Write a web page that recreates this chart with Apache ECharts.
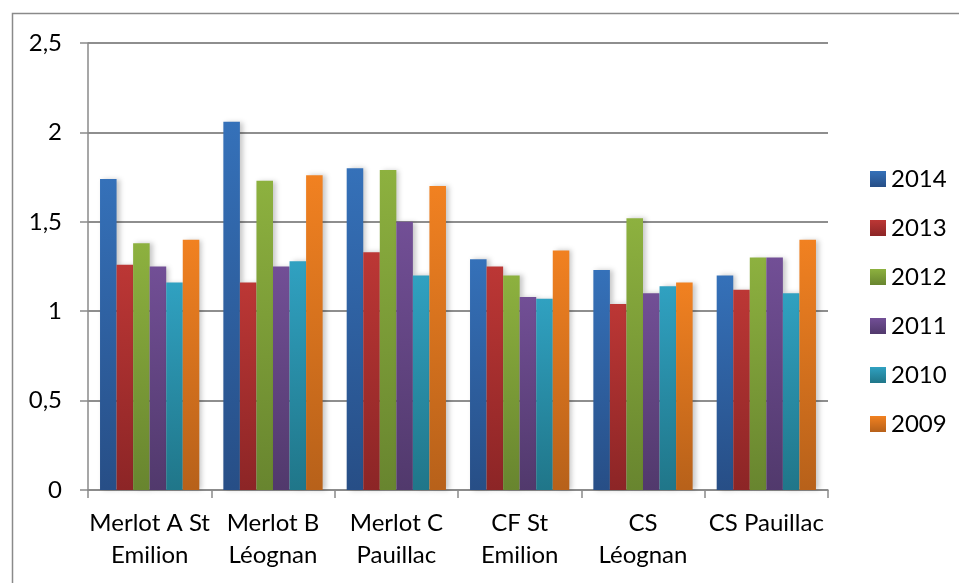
<!DOCTYPE html>
<html>
<head>
<meta charset="utf-8">
<script src="https://cdn.jsdelivr.net/npm/echarts@6/dist/echarts.min.js"></script>
<style>
html,body{margin:0;padding:0;background:#fff;}
#c{width:959px;height:583px;}
</style>
</head>
<body>
<div id="c"></div>
<script>
var categories = ['Merlot A St\nEmilion', 'Merlot B\nLéognan', 'Merlot C\nPauillac', 'CF St\nEmilion', 'CS\nLéognan', 'CS Pauillac'];
var seriesNames = ['2014', '2013', '2012', '2011', '2010', '2009'];
var v2014 = [1.74, 2.06, 1.80, 1.29, 1.23, 1.20];
var v2013 = [1.26, 1.16, 1.33, 1.25, 1.04, 1.12];
var v2012 = [1.38, 1.73, 1.79, 1.20, 1.52, 1.30];
var v2011 = [1.25, 1.25, 1.50, 1.08, 1.10, 1.30];
var v2010 = [1.16, 1.28, 1.20, 1.07, 1.14, 1.10];
var v2009 = [1.40, 1.76, 1.70, 1.34, 1.16, 1.40];
var yTickLabels = ['0', '0,5', '1', '1,5', '2', '2,5'];

var seriesValues = [v2014, v2013, v2012, v2011, v2010, v2009];
var topColors = ['#3571B9', '#BC3735', '#8DB13F', '#724F96', '#30A1C1', '#F18121'];
var bottomColors = ['#274E86', '#8C2526', '#68852F', '#51396C', '#207689', '#B7611A'];

var FONT = 'Lato, "Liberation Sans", sans-serif';
var chart = echarts.init(document.getElementById('c'), null, {renderer: 'canvas'});

var series = seriesNames.map(function (name, i) {
  return {
    name: name,
    type: 'bar',
    data: seriesValues[i],
    barGap: '0%',
    barCategoryGap: '19.5%',
    itemStyle: {
      color: new echarts.graphic.LinearGradient(0, 0, 0, 1, [
        {offset: 0, color: topColors[i]},
        {offset: 1, color: bottomColors[i]}
      ]),
      shadowColor: 'rgba(0,0,0,0.22)',
      shadowBlur: 5,
      shadowOffsetX: 3,
      shadowOffsetY: 0
    },
    emphasis: {disabled: true}
  };
});

chart.setOption({
  animation: false,
  backgroundColor: '#ffffff',
  textStyle: {fontFamily: FONT},
  graphic: [{
    type: 'rect',
    shape: {x: 12.5, y: 13.5, width: 960, height: 620},
    style: {fill: 'none', stroke: '#8a8a8a', lineWidth: 1.5},
    silent: true,
    z: -1
  }],
  grid: {left: 88, right: 131, top: 43, bottom: 93, containLabel: false},
  legend: {
    orient: 'vertical',
    left: 870,
    top: 167,
    padding: 0,
    itemWidth: 16,
    itemHeight: 16,
    itemGap: 25,
    icon: 'rect',
    textStyle: {fontFamily: FONT, fontSize: 24, lineHeight: 22, color: '#000'},
    data: seriesNames
  },
  xAxis: {
    type: 'category',
    data: categories,
    axisLine: {lineStyle: {color: '#8a8a8a', width: 1.5}},
    axisTick: {show: true, length: 8, lineStyle: {color: '#8a8a8a', width: 1.5}},
    axisLabel: {
      interval: 0,
      margin: 17,
      fontFamily: FONT,
      fontSize: 24,
      lineHeight: 32,
      color: '#000'
    }
  },
  yAxis: {
    type: 'value',
    min: 0,
    max: 2.5,
    interval: 0.5,
    axisLine: {show: true, lineStyle: {color: '#8a8a8a', width: 1.5}},
    axisTick: {show: true, length: 8, lineStyle: {color: '#8a8a8a', width: 1.5}},
    splitLine: {show: true, lineStyle: {color: '#8e8e8e', width: 2}},
    axisLabel: {
      margin: 26,
      fontFamily: FONT,
      fontSize: 24,
      color: '#000',
      formatter: function (v) { return yTickLabels[Math.round(v / 0.5)]; }
    }
  },
  series: series
});
</script>
</body>
</html>
